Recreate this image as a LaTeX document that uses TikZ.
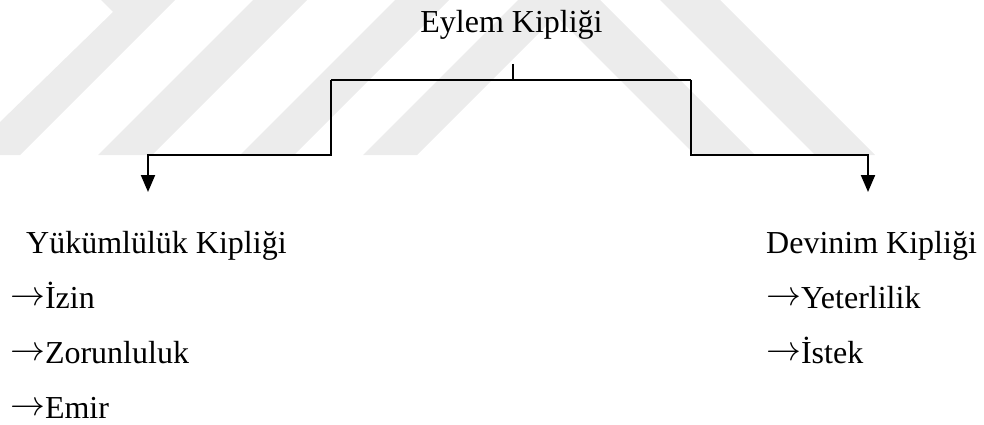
\documentclass[tikz,border=0pt]{standalone}
\usepackage{graphicx}
\usepackage{fontspec}
\setmainfont{Liberation Serif}
\usetikzlibrary{arrows.meta}
\definecolor{wm}{RGB}{236,236,236}
\newcommand\karrow{\raisebox{3pt}{\scalebox{1.4}{$\rightarrow$}}}
\begin{document}
\begin{tikzpicture}[x=1pt,y=-1pt,
  band/.style={fill=wm,draw=none},
  lbl/.style={anchor=base west,inner sep=0pt,font=\fontsize{32}{38}\selectfont},
  ttl/.style={anchor=base,inner sep=0pt,font=\fontsize{32}{38}\selectfont},
  conn/.style={line width=2pt,line join=miter},
  tickline/.style={line width=1.3pt},
  arr/.style={conn,-{Triangle[width=14pt,length=17pt]}}]
\useasboundingbox (0,0) rectangle (984,425);
% watermark stripes
\fill[band] (0,122) -- (113,12) -- (101,0) -- (175,0) -- (20,155) -- (0,155) -- cycle;
\fill[band] (253,0) -- (307,0) -- (152,155) -- (98,155) -- cycle;
\fill[band] (395,0) -- (449,0) -- (294,155) -- (240,155) -- cycle;
\fill[band] (518,0) -- (572,0) -- (417,155) -- (363,155) -- cycle;
\fill[band] (540,0) -- (600,0) -- (755,155) -- (695,155) -- cycle;
\fill[band] (660,0) -- (720,0) -- (875,155) -- (815,155) -- cycle;
% root
\node[ttl] (root) at (511.5,33) {Eylem Kipliği};
\coordinate (tick) at (513,64);
\coordinate (hub) at (513,80);
\coordinate (ul) at (331,80);
\coordinate (ur) at (691,80);
\coordinate (ll) at (331,155);
\coordinate (lr) at (691,155);
\coordinate (al) at (148,155);
\coordinate (ar) at (868,155);
\coordinate (tl) at (148,192);
\coordinate (tr) at (868,192);
\draw[tickline] (tick) -- (hub);
\draw[conn] (ul) -- (ur);
\draw[arr] (ul) -- (ll) -- (al) -- (tl);
\draw[arr] (ur) -- (lr) -- (ar) -- (tr);
% children
\node[lbl] (yuk) at (26,253) {Yükümlülük Kipliği};
\node[lbl] (izin) at (10,308) {\karrow İzin};
\node[lbl] (zor) at (10,363) {\karrow Zorunluluk};
\node[lbl] (emir) at (10,418) {\karrow Emir};
\node[lbl] (dev) at (766,253) {Devinim Kipliği};
\node[lbl] (yet) at (766,308) {\karrow Yeterlilik};
\node[lbl] (ist) at (766,363) {\karrow İstek};
\end{tikzpicture}
\end{document}
